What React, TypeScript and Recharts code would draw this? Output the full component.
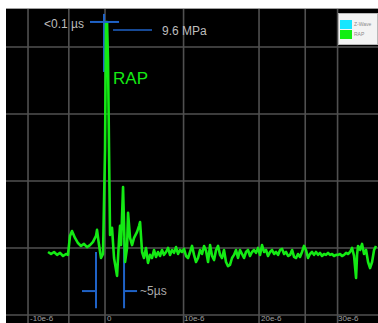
import React from 'react';
import { LineChart, Line, XAxis, YAxis, ReferenceLine, ReferenceDot, Legend } from 'recharts';

// time in microseconds, pressure in MPa
const timeUs = [
  -7.40, -7.01, -6.62, -6.23, -5.84, -5.45, -5.06, -4.81, -4.55, -4.29,
  -3.90, -3.51, -3.12, -2.73, -2.34, -1.95, -1.56, -1.17, -1.04, -0.78,
  -0.52, -0.26, 0.00, 0.13, 0.26, 0.39, 0.52, 0.65, 0.91, 1.17,
  1.56, 1.82, 1.95, 2.08, 2.34, 2.60, 2.86, 2.99, 3.25, 3.51,
  3.77, 4.16, 4.42, 4.55, 4.81, 5.06, 5.32, 5.58, 5.84, 6.10,
  6.36, 6.62, 6.88, 7.14, 7.40, 7.66, 7.92, 8.18, 8.44, 8.70,
  8.96, 9.22, 9.48, 9.74, 10.00, 10.26, 10.52, 10.78, 11.04, 11.30,
  11.56, 11.82, 12.08, 12.34, 12.60, 12.86, 13.12, 13.38, 13.64, 13.90,
  14.16, 14.42, 14.68, 14.94, 15.19, 15.45, 15.71, 15.97, 16.23, 16.49,
  16.75, 17.01, 17.27, 17.53, 17.79, 18.05, 18.31, 18.57, 18.83, 19.09,
  19.35, 19.61, 19.87, 20.13, 20.39, 20.65, 20.91, 21.17, 21.43, 21.69,
  21.95, 22.21, 22.47, 22.73, 22.99, 23.25, 23.51, 23.77, 24.03, 24.29,
  24.55, 24.81, 25.06, 25.32, 25.58, 25.84, 26.10, 26.36, 26.62, 26.88,
  27.14, 27.40, 27.66, 27.92, 28.18, 28.44, 28.70, 28.96, 29.22, 29.48,
  29.74, 30.00, 30.26, 30.52, 30.78, 31.04, 31.30, 31.56, 31.82, 32.08,
  32.34, 32.60, 32.73, 32.86, 33.12, 33.38, 33.64, 33.90, 34.16, 34.42,
  34.68, 34.94, 35.19,
];

const pressureMPa = [
  -0.18, -0.27, -0.18, -0.31, -0.22, -0.36, -0.27, -0.31, 0.54, 0.76,
  0.45, 0.22, 0.09, 0.18, 0.04, 0.13, 0.27, 0.54, 0.81, 0.13,
  -0.45, -0.27, 4.39, 10.12, 10.12, 8.42, 4.39, 0.58, 0.90, -0.45,
  -1.25, 0.36, 0.99, 0.13, 2.73, -0.63, 0.00, 1.57, 0.45, 0.13,
  0.45, 0.72, 0.99, 1.16, -0.18, -0.45, 0.00, -0.67, -0.31, -0.45,
  -0.09, -0.40, -0.18, -0.36, -0.09, -0.31, -0.18, 0.00, -0.31, -0.09,
  -0.22, 0.04, -0.27, -0.09, -0.18, -0.04, -0.36, -0.45, -0.18, 0.09,
  -0.31, -0.63, -0.45, -0.09, -0.27, 0.09, -0.13, -0.63, 0.13, -0.36,
  -0.54, -0.09, 0.09, -0.31, -0.45, -0.09, -0.63, -0.81, -0.76, -0.45,
  -0.31, -0.09, -0.45, -0.09, -0.27, -0.45, -0.18, -0.09, -0.36, -0.18,
  -0.09, -0.22, 0.00, -0.31, 0.13, -0.18, -0.09, -0.36, -0.18, -0.09,
  -0.27, -0.18, -0.31, -0.09, -0.04, -0.27, -0.18, -0.36, -0.31, -0.09,
  -0.40, -0.45, -0.27, -0.40, -0.18, 0.09, -0.09, -0.45, -0.27, -0.18,
  -0.31, -0.18, -0.31, -0.22, -0.36, -0.27, -0.31, -0.22, -0.31, -0.27,
  -0.36, -0.31, -0.31, -0.27, -0.36, -0.31, -0.22, -0.27, -0.18, 0.00,
  -0.36, -1.34, -0.31, 0.09, -0.09, 0.18, -0.27, -0.09, -0.63, -0.90,
  -0.63, -0.09, 0.09,
];

const xTickValues = [-10, 0, 10, 20, 30];
const xTickLabels = ['-10e-6', '0', '10e-6', '20e-6', '30e-6'];
const gridTimes = [-10, -4.7, 0, 10.2, 20, 26, 30.2];
const gridPressures = [-3, 0, 3, 6, 9];
const xDomain = [-12.86, 35.45];
const yDomain = [-3.36, 10.7];

const legendItems = [
  { name: 'Z-Wave', color: '#16e6ff' },
  { name: 'RAP', color: '#12ee12' },
];

// annotation marks (time µs, pressure MPa)
const riseTimeBar = { t0: -1.95, t1: 1.82, p: 10.12 };
const riseTimeTick = { t: -0.13, p0: 10.48, p1: 7.88 };
const peakBar = { t0: 1.04, t1: 6.1, p: 9.76 };
const widthLeft = { t: -1.17, p0: -0.18, p1: -2.7 };
const widthRight = { t: 2.47, p0: 0.45, p1: -2.7 };
const widthArrowL = { t0: -2.99, t1: -1.17, p: -1.93 };
const widthArrowR = { t0: 2.47, t1: 4.16, p: -1.93 };

const riseLabel = { text: '<0.1 µs', t: -1.95, p: 10.05 };
const peakLabel = { text: '9.6 MPa', t: 6.1, p: 9.72 };
const seriesLabel = { text: 'RAP', t: 1.04, p: 7.61 };
const widthLabel = { text: '~5µs', t: 4.16, p: -1.93 };

const data = timeUs.map((t, i) => ({ t, rap: pressureMPa[i] }));

const BLUE = '#1f62c6';
const GREEN = '#14ea14';
const GRID = '#505050';
const TEXT = '#bdbdbd';

export default function App() {
  return (
    <div
      style={{
        position: 'absolute',
        left: 0,
        top: 0,
        width: 378,
        height: 323,
        background: '#ffffff',
        fontFamily: '"Liberation Sans", Arial, sans-serif',
        overflow: 'hidden',
      }}
    >
      <div style={{ position: 'absolute', left: 6, top: 8, width: 372, height: 1, background: '#a0a0a0' }} />
      <div style={{ position: 'absolute', left: 6, top: 9, width: 372, height: 314, background: '#000000' }}>
        <LineChart width={372} height={314} data={data} margin={{ top: 0, right: 0, bottom: 0, left: 0 }}>
          <XAxis dataKey="t" type="number" domain={xDomain} allowDataOverflow hide />
          <YAxis type="number" domain={yDomain} allowDataOverflow hide />
          {gridTimes.map((g) => (
            <ReferenceLine key={'gx' + g} x={g} stroke={GRID} strokeWidth={1.6} ifOverflow="visible" />
          ))}
          {gridPressures.map((g) => (
            <ReferenceLine key={'gy' + g} y={g} stroke={GRID} strokeWidth={1.6} ifOverflow="visible" />
          ))}
          {xTickValues.map((v, i) => (
            <ReferenceLine
              key={'tick' + v}
              x={v}
              stroke="none"
              strokeOpacity={0}
              label={{ value: xTickLabels[i], position: 'insideBottomLeft', offset: 2, fill: '#a0a0a0', fontSize: 8 }}
            />
          ))}
          <ReferenceLine
            segment={[{ x: riseTimeTick.t, y: riseTimeTick.p0 }, { x: riseTimeTick.t, y: riseTimeTick.p1 }]}
            stroke={BLUE}
            strokeWidth={2}
          />
          <ReferenceLine
            segment={[{ x: widthLeft.t, y: widthLeft.p0 }, { x: widthLeft.t, y: widthLeft.p1 }]}
            stroke={BLUE}
            strokeWidth={2}
          />
          <ReferenceLine
            segment={[{ x: widthRight.t, y: widthRight.p0 }, { x: widthRight.t, y: widthRight.p1 }]}
            stroke={BLUE}
            strokeWidth={2}
          />
          <ReferenceLine
            segment={[{ x: widthArrowL.t0, y: widthArrowL.p }, { x: widthArrowL.t1, y: widthArrowL.p }]}
            stroke={BLUE}
            strokeWidth={2}
          />
          <ReferenceLine
            segment={[{ x: widthArrowR.t0, y: widthArrowR.p }, { x: widthArrowR.t1, y: widthArrowR.p }]}
            stroke={BLUE}
            strokeWidth={2}
          />
          <Line
            dataKey="rap"
            name="RAP"
            type="linear"
            stroke={GREEN}
            strokeWidth={2.6}
            strokeLinejoin="round"
            dot={false}
            isAnimationActive={false}
          />
          <ReferenceLine
            segment={[{ x: riseTimeBar.t0, y: riseTimeBar.p }, { x: riseTimeBar.t1, y: riseTimeBar.p }]}
            stroke={BLUE}
            strokeWidth={2}
          />
          <ReferenceLine
            segment={[{ x: peakBar.t0, y: peakBar.p }, { x: peakBar.t1, y: peakBar.p }]}
            stroke={BLUE}
            strokeWidth={1.6}
          />
          <ReferenceDot
            x={riseLabel.t}
            y={riseLabel.p}
            r={0}
            fill="none"
            stroke="none"
            label={{ value: riseLabel.text, position: 'left', offset: 6, fill: TEXT, fontSize: 12 }}
          />
          <ReferenceDot
            x={peakLabel.t}
            y={peakLabel.p}
            r={0}
            fill="none"
            stroke="none"
            label={{ value: peakLabel.text, position: 'right', offset: 10, fill: TEXT, fontSize: 12 }}
          />
          <ReferenceDot
            x={seriesLabel.t}
            y={seriesLabel.p}
            r={0}
            fill="none"
            stroke="none"
            label={{ value: seriesLabel.text, position: 'right', offset: 0, fill: GREEN, fontSize: 17 }}
          />
          <ReferenceDot
            x={widthLabel.t}
            y={widthLabel.p}
            r={0}
            fill="none"
            stroke="none"
            label={{ value: widthLabel.text, position: 'right', offset: 3, fill: '#aaaaaa', fontSize: 12 }}
          />
          <Legend
            layout="vertical"
            align="center"
            verticalAlign="middle"
            wrapperStyle={{ position: 'absolute', top: 4, left: 332, width: 40, height: 32 }}
            content={() => (
              <div
                style={{
                  width: 40,
                  height: 32,
                  boxSizing: 'border-box',
                  background: '#f3f3f3',
                  border: '1px solid #b8b8b8',
                  padding: '6px 0 0 1px',
                }}
              >
                {legendItems.map((it) => (
                  <div key={it.name} style={{ display: 'flex', alignItems: 'center', height: 9.5 }}>
                    <span style={{ display: 'inline-block', width: 12, height: 9, background: it.color }} />
                    <span style={{ fontSize: 5, color: '#8a8a8a', marginLeft: 2, lineHeight: '9px' }}>{it.name}</span>
                  </div>
                ))}
              </div>
            )}
          />
        </LineChart>
      </div>
    </div>
  );
}
